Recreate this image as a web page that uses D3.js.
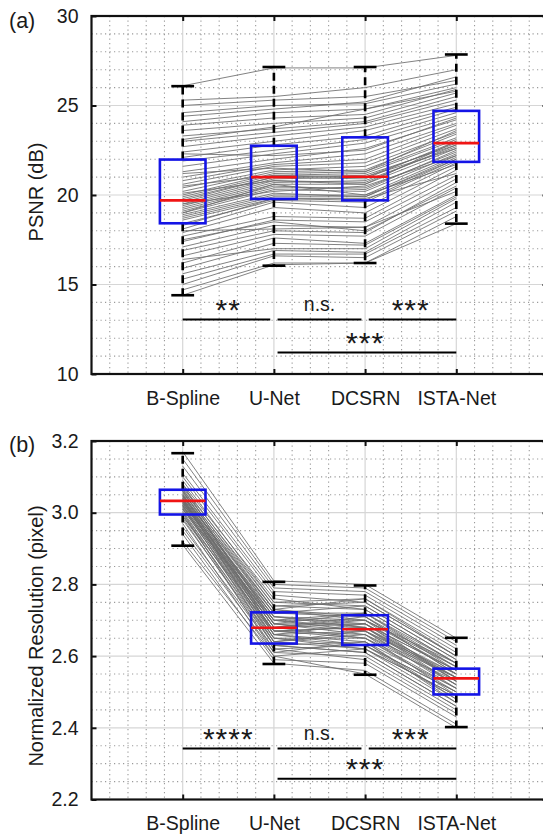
<!DOCTYPE html>
<html>
<head>
<meta charset="utf-8">
<script src="https://cdn.jsdelivr.net/npm/d3@7"></script>
<style>
  body { margin: 0; background: #fff; }
  svg text { font-family: "Liberation Sans", Arial, sans-serif; fill: #1a1a1a; }
</style>
</head>
<body>
<div id="chart"></div>
<script>
const categories = ["B-Spline", "U-Net", "DCSRN", "ISTA-Net"];

// (a) PSNR per subject, one array per method
const psnrBSpline = [14.4,14.7,15.0,15.3,15.6,15.9,16.2,16.4,16.6,16.9,17.1,17.4,17.5,17.7,17.9,18.0,18.1,18.3,18.4,18.6,18.7,18.8,18.9,19.0,19.0,19.1,19.2,19.3,19.4,19.5,19.5,19.6,19.7,19.8,19.9,20.0,20.1,20.2,20.4,20.5,20.6,20.8,21.0,21.2,21.3,21.6,21.9,22.1,22.3,22.4,22.7,23.0,23.1,23.3,23.6,23.9,24.1,24.4,24.6,25.0,25.3,26.1];
const psnrUNet    = [16.1,16.2,16.6,16.7,16.9,17.3,17.6,17.0,17.8,18.0,18.3,18.6,18.5,18.8,19.3,18.1,19.6,19.8,19.7,19.8,19.9,20.0,20.1,20.3,20.6,20.4,20.5,20.6,20.7,20.8,20.2,20.9,21.0,21.0,21.1,21.2,20.8,21.3,21.4,21.1,21.6,21.7,21.8,21.5,22.0,22.3,22.5,22.8,22.2,23.0,23.3,23.5,23.8,23.7,24.0,24.3,24.6,24.8,25.0,25.3,25.5,27.1];
const psnrDCSRN   = [16.2,16.2,16.5,16.7,16.8,17.2,17.3,17.0,17.7,17.9,18.2,18.5,18.0,18.7,19.0,18.2,19.3,19.8,19.6,19.7,19.9,20.0,19.9,20.2,20.0,20.4,20.3,20.6,20.8,20.7,20.5,21.0,21.1,20.9,21.2,21.3,20.6,21.4,21.6,21.0,21.8,22.0,22.3,21.3,22.6,22.9,23.1,23.3,22.5,23.6,23.8,24.0,24.8,24.1,24.3,24.5,24.8,25.2,25.1,25.5,26.0,27.1];
const psnrISTA    = [18.4,18.8,19.1,19.3,19.6,19.9,20.0,19.8,20.4,20.7,20.9,21.1,20.5,21.4,21.6,20.2,21.8,21.2,21.9,22.0,22.1,22.2,22.0,22.3,21.7,22.4,22.5,22.6,22.7,22.8,22.2,22.9,22.8,23.0,23.1,23.2,23.0,23.4,23.5,22.6,23.7,23.9,24.0,23.6,24.2,24.4,24.6,24.8,24.3,24.9,25.1,25.3,25.8,25.5,25.7,25.9,26.0,26.6,26.2,26.4,27.0,27.8];

// (a) box statistics
const psnrLow    = [14.4, 16.05, 16.2, 18.4];
const psnrQ1     = [18.42, 19.78, 19.7, 21.85];
const psnrMedian = [19.7, 21.0, 21.02, 22.9];
const psnrQ3     = [21.98, 22.75, 23.22, 24.7];
const psnrHigh   = [26.08, 27.15, 27.15, 27.85];
const psnrTicks  = [10, 15, 20, 25, 30];
const psnrSigLabels = ["**", "n.s.", "***", "***"];
const psnrSigLevels = [13.05, 13.05, 13.05, 11.2];

// (b) normalized resolution per subject
const resBSpline = [2.91,2.92,2.94,2.95,2.96,2.97,2.98,2.985,2.99,2.995,3.00,3.005,3.01,3.012,3.015,3.018,3.02,3.022,3.025,3.027,3.03,3.032,3.034,3.036,3.038,3.04,3.042,3.045,3.048,3.05,3.053,3.056,3.06,3.063,3.066,3.07,3.075,3.08,3.09,3.10,3.11,3.13,3.15,3.17,3.00,3.01,3.02,3.03,3.04,3.05,3.06,3.035,3.045,3.025,2.99,3.08];
const resUNet    = [2.58,2.60,2.59,2.61,2.62,2.60,2.63,2.62,2.64,2.63,2.65,2.64,2.66,2.65,2.67,2.66,2.68,2.67,2.69,2.68,2.67,2.69,2.68,2.70,2.69,2.71,2.68,2.70,2.71,2.72,2.70,2.73,2.72,2.74,2.73,2.75,2.74,2.76,2.75,2.77,2.78,2.79,2.80,2.81,2.61,2.70,2.63,2.72,2.64,2.66,2.69,2.65,2.73,2.71,2.67,2.66];
const resDCSRN   = [2.56,2.55,2.58,2.60,2.59,2.62,2.61,2.63,2.62,2.64,2.63,2.66,2.64,2.65,2.66,2.67,2.65,2.68,2.67,2.69,2.68,2.66,2.70,2.67,2.69,2.68,2.71,2.70,2.69,2.71,2.72,2.70,2.72,2.73,2.71,2.74,2.75,2.73,2.76,2.75,2.77,2.78,2.79,2.80,2.64,2.68,2.61,2.74,2.67,2.63,2.72,2.62,2.76,2.70,2.65,2.69];
const resISTA    = [2.41,2.40,2.43,2.45,2.44,2.47,2.46,2.48,2.49,2.47,2.50,2.49,2.51,2.50,2.52,2.51,2.53,2.52,2.54,2.53,2.55,2.54,2.53,2.55,2.56,2.54,2.55,2.57,2.56,2.55,2.57,2.58,2.56,2.58,2.57,2.59,2.60,2.58,2.61,2.60,2.62,2.63,2.64,2.65,2.48,2.53,2.46,2.59,2.52,2.50,2.58,2.49,2.60,2.56,2.51,2.54];

const resLow    = [2.908, 2.578, 2.548, 2.402];
const resQ1     = [2.995, 2.635, 2.631, 2.493];
const resMedian = [3.033, 2.679, 2.675, 2.538];
const resQ3     = [3.064, 2.722, 2.714, 2.565];
const resHigh   = [3.166, 2.807, 2.797, 2.651];
const resTicks  = [2.2, 2.4, 2.6, 2.8, 3.0, 3.2];
const resSigLabels = ["****", "n.s.", "***", "***"];
const resSigLevels = [2.342, 2.342, 2.342, 2.258];

const sigPairs = [[1, 2], [2, 3], [3, 4], [2, 4]];

const svg = d3.select("#chart").append("svg")
  .attr("width", 543)
  .attr("height", 836);

const x = d3.scaleLinear().domain([0, 5]).range([91.5, 547.5]);

function drawPanel(p) {
  const y = d3.scaleLinear().domain(p.domain).range([p.bottom, p.top]);
  const g = svg.append("g");

  // minor dotted grid
  const xMinor = d3.range(1, 25).map(i => i * 0.2).filter(v => Math.abs(v - Math.round(v)) > 1e-6);
  const nMinor = Math.round((p.domain[1] - p.domain[0]) / p.minor);
  const yMinor = d3.range(1, nMinor).map(i => p.domain[0] + i * p.minor)
    .filter(v => Math.abs(v / p.major - Math.round(v / p.major)) > 1e-6);

  g.append("g").selectAll("line").data(xMinor).join("line")
    .attr("x1", d => x(d)).attr("x2", d => x(d))
    .attr("y1", p.top).attr("y2", p.bottom)
    .attr("stroke", "#9a9a9a").attr("stroke-width", 1.1)
    .attr("stroke-dasharray", "1.2,3.3");
  g.append("g").selectAll("line").data(yMinor).join("line")
    .attr("x1", x(0)).attr("x2", x(5))
    .attr("y1", d => y(d)).attr("y2", d => y(d))
    .attr("stroke", "#9a9a9a").attr("stroke-width", 1.1)
    .attr("stroke-dasharray", "1.2,3.3");

  // major grid
  g.append("g").selectAll("line").data([1, 2, 3, 4]).join("line")
    .attr("x1", d => x(d)).attr("x2", d => x(d))
    .attr("y1", p.top).attr("y2", p.bottom)
    .attr("stroke", "#d6d6d6").attr("stroke-width", 1.2);
  g.append("g").selectAll("line").data(p.ticks).join("line")
    .attr("x1", x(0)).attr("x2", x(5))
    .attr("y1", d => y(d)).attr("y2", d => y(d))
    .attr("stroke", "#d6d6d6").attr("stroke-width", 1.2);

  // paired subject lines
  const subjects = p.series[0].map((_, i) => p.series.map((s, k) => [k + 1, s[i]]));
  const line = d3.line().x(d => x(d[0])).y(d => y(d[1]));
  g.append("g").selectAll("path").data(subjects).join("path")
    .attr("d", line)
    .attr("fill", "none")
    .attr("stroke", "#6c6c6c")
    .attr("stroke-width", 1)
    .attr("stroke-opacity", 0.85);

  // box plots
  const idx = [0, 1, 2, 3];
  const bx = g.append("g");
  bx.selectAll(".wu").data(idx).join("line")
    .attr("x1", k => x(k + 1)).attr("x2", k => x(k + 1))
    .attr("y1", k => y(p.q3[k])).attr("y2", k => y(p.high[k]))
    .attr("stroke", "#000").attr("stroke-width", 2.6).attr("stroke-dasharray", "8,5");
  bx.selectAll(".wl").data(idx).join("line")
    .attr("x1", k => x(k + 1)).attr("x2", k => x(k + 1))
    .attr("y1", k => y(p.q1[k])).attr("y2", k => y(p.low[k]))
    .attr("stroke", "#000").attr("stroke-width", 2.6).attr("stroke-dasharray", "8,5");
  [p.high, p.low].forEach(arr => {
    bx.append("g").selectAll("line").data(idx).join("line")
      .attr("x1", k => x(k + 1 - 0.125)).attr("x2", k => x(k + 1 + 0.125))
      .attr("y1", k => y(arr[k])).attr("y2", k => y(arr[k]))
      .attr("stroke", "#000").attr("stroke-width", 2.6);
  });
  bx.append("g").selectAll("rect").data(idx).join("rect")
    .attr("x", k => x(k + 1 - 0.25))
    .attr("width", x(1.5) - x(1))
    .attr("y", k => y(p.q3[k]))
    .attr("height", k => y(p.q1[k]) - y(p.q3[k]))
    .attr("fill", "none")
    .attr("stroke", "#1414e6").attr("stroke-width", 2.6);
  bx.append("g").selectAll("line").data(idx).join("line")
    .attr("x1", k => x(k + 1 - 0.25)).attr("x2", k => x(k + 1 + 0.25))
    .attr("y1", k => y(p.median[k])).attr("y2", k => y(p.median[k]))
    .attr("stroke", "#f01414").attr("stroke-width", 2.6);

  // significance bars
  const sig = g.append("g");
  sigPairs.forEach((pr, i) => {
    const x0 = pr[0] === 1 ? pr[0] : pr[0] + 0.04;
    const x1 = pr[1] === 4 ? pr[1] : pr[1] - 0.04;
    const yy = y(p.sigLevels[i]);
    sig.append("line")
      .attr("x1", x(x0)).attr("x2", x(x1))
      .attr("y1", yy).attr("y2", yy)
      .attr("stroke", "#000").attr("stroke-width", 2);
    const lab = p.sigLabels[i];
    const isStar = lab.indexOf("*") >= 0;
    sig.append("text")
      .attr("x", x((pr[0] + pr[1]) / 2))
      .attr("y", isStar ? yy + 0.5 : yy - 8.5)
      .attr("text-anchor", "middle")
      .attr("font-size", isStar ? 30 : 19.5)
      .attr("letter-spacing", isStar ? 1 : 0)
      .text(lab);
  });

  // frame
  g.append("rect")
    .attr("x", x(0)).attr("y", p.top)
    .attr("width", x(5) - x(0)).attr("height", p.bottom - p.top)
    .attr("fill", "none").attr("stroke", "#111").attr("stroke-width", 2.2);

  // axes (ticks inside, like the original)
  const left = g.append("g").attr("transform", `translate(${x(0)},0)`)
    .call(d3.axisLeft(y).tickValues(p.ticks).tickFormat(p.fmt)
      .tickSizeInner(-5).tickSizeOuter(0).tickPadding(13));
  const right = g.append("g").attr("transform", `translate(${x(5)},0)`)
    .call(d3.axisRight(y).tickValues(p.ticks).tickFormat("")
      .tickSizeInner(-5).tickSizeOuter(0));
  const bottom = g.append("g").attr("transform", `translate(0,${p.bottom})`)
    .call(d3.axisBottom(x).tickValues([1, 2, 3, 4]).tickFormat(d => categories[d - 1])
      .tickSizeInner(-5).tickSizeOuter(0).tickPadding(17));
  const top = g.append("g").attr("transform", `translate(0,${p.top})`)
    .call(d3.axisTop(x).tickValues([1, 2, 3, 4]).tickFormat("")
      .tickSizeInner(-5).tickSizeOuter(0));
  [left, right, bottom, top].forEach(a => {
    a.select(".domain").remove();
    a.selectAll(".tick line").attr("stroke", "#111").attr("stroke-width", 2);
    a.attr("font-size", 19.5);
  });

  // y title and panel letter
  g.append("text")
    .attr("transform", `translate(${p.titleX},${p.titleY}) rotate(-90)`)
    .attr("text-anchor", "middle")
    .attr("font-size", 20)
    .text(p.title);
  g.append("text")
    .attr("x", 9).attr("y", p.letterY)
    .attr("font-size", 21.5)
    .text(p.letter);
}

drawPanel({
  domain: [10, 30], top: 16, bottom: 374,
  major: 5, minor: 1, ticks: psnrTicks, fmt: d3.format("d"),
  series: [psnrBSpline, psnrUNet, psnrDCSRN, psnrISTA],
  low: psnrLow, q1: psnrQ1, median: psnrMedian, q3: psnrQ3, high: psnrHigh,
  sigLabels: psnrSigLabels, sigLevels: psnrSigLevels,
  title: "PSNR (dB)", titleX: 43, titleY: 192,
  letter: "(a)", letterY: 28
});

drawPanel({
  domain: [2.2, 3.2], top: 441, bottom: 799.5,
  major: 0.2, minor: 0.05, ticks: resTicks, fmt: d3.format(".1f"),
  series: [resBSpline, resUNet, resDCSRN, resISTA],
  low: resLow, q1: resQ1, median: resMedian, q3: resQ3, high: resHigh,
  sigLabels: resSigLabels, sigLevels: resSigLevels,
  title: "Normalized Resolution (pixel)", titleX: 42.5, titleY: 636,
  letter: "(b)", letterY: 452
});
</script>
</body>
</html>
